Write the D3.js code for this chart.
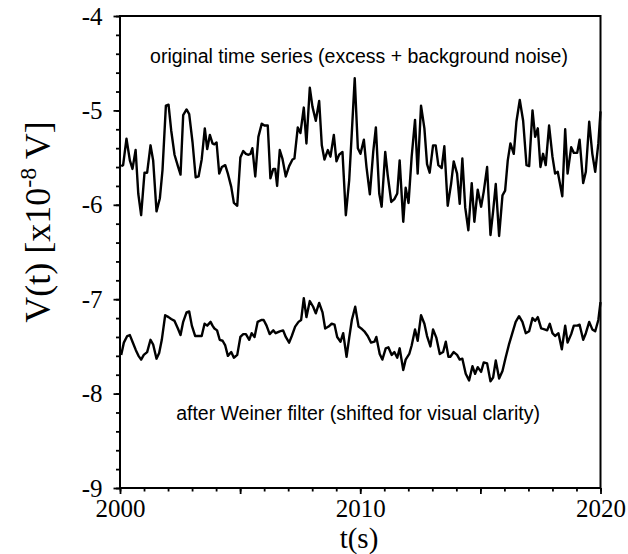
<!DOCTYPE html>
<html><head><meta charset="utf-8">
<script src="https://cdn.jsdelivr.net/npm/d3@7"></script>
<style>html,body{margin:0;padding:0;background:#fff}</style>
</head><body>
<svg id="chart" width="628" height="554"></svg>
<script>
// ---- data ----
const origYears = [2000.05,2000.13,2000.27,2000.41,2000.52,2000.65,2000.76,2000.88,2001.02,2001.13,2001.27,2001.38,2001.52,2001.66,2001.77,2001.91,2002.02,2002.13,2002.27,2002.41,2002.52,2002.63,2002.77,2002.88,2003.02,2003.15,2003.27,2003.40,2003.53,2003.63,2003.74,2003.85,2003.93,2004.02,2004.13,2004.24,2004.38,2004.49,2004.63,2004.74,2004.88,2005.01,2005.13,2005.24,2005.35,2005.43,2005.51,2005.63,2005.76,2005.90,2006.01,2006.15,2006.26,2006.38,2006.46,2006.54,
2006.65,2006.76,2006.90,2007.04,2007.18,2007.26,2007.40,2007.51,2007.65,2007.76,2007.90,2008.01,2008.15,2008.29,2008.40,2008.51,2008.65,2008.76,2008.90,2009.01,2009.12,2009.26,2009.40,2009.54,2009.65,2009.77,2009.90,2010.01,2010.15,2010.26,2010.40,2010.54,2010.65,2010.79,2010.89,2011.04,2011.14,2011.29,2011.42,2011.54,2011.64,2011.79,2011.89,2012.01,2012.14,2012.28,2012.39,2012.53,2012.67,2012.78,2012.89,2013.03,2013.14,2013.25,2013.39,2013.50,2013.64,
2013.78,2013.89,2014.03,2014.14,2014.25,2014.37,2014.50,2014.64,2014.75,2014.89,2015.03,2015.14,2015.28,2015.42,2015.53,2015.64,2015.78,2015.92,2016.03,2016.14,2016.25,2016.39,2016.50,2016.64,2016.78,2016.92,2017.03,2017.17,2017.28,2017.39,2017.50,2017.61,2017.72,2017.86,2018.00,2018.11,2018.22,2018.41,2018.53,2018.63,2018.78,2018.89,2019.03,2019.13,2019.28,2019.39,2019.53,2019.66,2019.78,2019.91,2020.00];
const origValues = [-5.59,-5.58,-5.30,-5.53,-5.62,-5.42,-5.88,-6.11,-5.66,-5.66,-5.37,-5.53,-6.07,-5.93,-5.63,-4.95,-4.94,-5.21,-5.47,-5.59,-5.68,-5.05,-4.99,-5.04,-5.34,-5.71,-5.70,-5.52,-5.19,-5.41,-5.26,-5.35,-5.36,-5.34,-5.67,-5.60,-5.58,-5.67,-5.81,-5.98,-6.01,-5.50,-5.43,-5.46,-5.47,-5.46,-5.40,-5.70,-5.28,-5.14,-5.16,-5.16,-5.72,-5.62,-5.62,-5.80,
-5.42,-5.51,-5.70,-5.59,-5.52,-5.51,-5.18,-5.24,-4.97,-5.35,-4.76,-4.96,-5.11,-4.90,-5.37,-5.52,-5.42,-5.49,-5.26,-5.54,-5.47,-5.44,-6.11,-5.74,-5.23,-4.66,-5.40,-5.46,-5.31,-5.60,-5.89,-5.44,-5.18,-5.88,-6.02,-5.44,-5.68,-5.97,-5.94,-5.88,-5.53,-6.18,-5.82,-5.98,-5.49,-5.10,-5.67,-4.95,-5.19,-5.57,-5.66,-5.37,-5.37,-5.58,-5.61,-5.38,-6.01,
-5.78,-5.54,-5.67,-5.99,-5.51,-6.03,-6.27,-5.77,-6.18,-5.84,-6.02,-5.86,-5.60,-6.32,-6.07,-5.78,-6.33,-5.90,-5.85,-5.53,-5.35,-5.46,-5.12,-4.89,-5.11,-5.58,-5.59,-5.00,-5.28,-5.19,-5.60,-5.46,-5.58,-5.16,-5.49,-5.67,-5.65,-5.91,-5.20,-5.67,-5.39,-5.45,-5.45,-5.31,-5.77,-5.65,-5.12,-5.46,-5.65,-5.35,-5.01];

const filtYears = [2000.05,2000.16,2000.30,2000.41,2000.52,2000.66,2000.77,2000.88,2000.99,2001.13,2001.27,2001.38,2001.52,2001.63,2001.74,2001.88,2002.02,2002.13,2002.27,2002.41,2002.52,2002.63,2002.77,2002.88,2002.99,2003.13,2003.27,2003.40,2003.52,2003.63,2003.77,2003.85,2003.93,2004.04,2004.15,2004.27,2004.38,2004.49,2004.63,2004.74,2004.88,2005.01,2005.13,2005.24,2005.38,2005.48,2005.60,2005.73,2005.88,2005.98,2006.10,2006.23,2006.38,2006.48,
2006.65,2006.79,2006.90,2007.04,2007.15,2007.29,2007.43,2007.54,2007.65,2007.76,2007.90,2008.04,2008.15,2008.29,2008.43,2008.54,2008.68,2008.81,2008.93,2009.04,2009.18,2009.29,2009.43,2009.54,2009.65,2009.79,2009.93,2010.04,2010.17,2010.31,2010.45,2010.59,2010.67,2010.81,2010.92,2011.06,2011.17,2011.31,2011.42,2011.54,2011.64,2011.79,2011.89,2012.04,2012.14,2012.28,2012.39,2012.53,2012.67,2012.78,2012.92,2013.03,2013.17,2013.31,2013.45,2013.56,2013.67,
2013.75,2013.89,2014.03,2014.14,2014.25,2014.39,2014.53,2014.67,2014.78,2014.89,2015.03,2015.14,2015.28,2015.42,2015.53,2015.64,2015.78,2015.92,2016.05,2016.20,2016.33,2016.47,2016.61,2016.75,2016.89,2017.03,2017.17,2017.28,2017.39,2017.53,2017.67,2017.78,2017.89,2018.00,2018.11,2018.25,2018.39,2018.53,2018.63,2018.78,2018.89,2019.03,2019.13,2019.28,2019.39,2019.53,2019.66,2019.78,2019.91,2020.00];
const filtValues = [-7.59,-7.46,-7.39,-7.38,-7.45,-7.54,-7.60,-7.64,-7.59,-7.56,-7.43,-7.48,-7.63,-7.57,-7.43,-7.17,-7.19,-7.21,-7.23,-7.31,-7.38,-7.24,-7.14,-7.13,-7.28,-7.39,-7.39,-7.39,-7.26,-7.28,-7.24,-7.28,-7.31,-7.33,-7.43,-7.44,-7.49,-7.60,-7.56,-7.62,-7.59,-7.40,-7.37,-7.37,-7.43,-7.36,-7.40,-7.24,-7.22,-7.22,-7.28,-7.37,-7.33,-7.36,
-7.34,-7.33,-7.40,-7.46,-7.39,-7.29,-7.24,-7.22,-6.99,-7.19,-7.02,-7.08,-7.15,-7.04,-7.14,-7.31,-7.29,-7.26,-7.27,-7.40,-7.45,-7.36,-7.61,-7.41,-7.22,-7.08,-7.29,-7.31,-7.34,-7.39,-7.46,-7.45,-7.40,-7.58,-7.64,-7.52,-7.51,-7.59,-7.56,-7.62,-7.52,-7.75,-7.64,-7.58,-7.49,-7.32,-7.44,-7.17,-7.26,-7.39,-7.50,-7.32,-7.41,-7.58,-7.56,-7.45,-7.61,
-7.61,-7.56,-7.59,-7.64,-7.63,-7.79,-7.86,-7.71,-7.79,-7.72,-7.77,-7.67,-7.68,-7.87,-7.83,-7.65,-7.84,-7.76,-7.62,-7.47,-7.36,-7.24,-7.18,-7.24,-7.36,-7.34,-7.20,-7.23,-7.19,-7.31,-7.32,-7.33,-7.26,-7.36,-7.39,-7.36,-7.53,-7.28,-7.46,-7.37,-7.28,-7.28,-7.27,-7.43,-7.36,-7.24,-7.32,-7.34,-7.22,-7.03];

const xMajorTicks = [2000, 2005, 2010, 2015, 2020];
const xTickLabels = ["2000", "", "2010", "", "2020"];
const yMajorTicks = [-4, -5, -6, -7, -8, -9];
const yTickLabels = ["-4", "-5", "-6", "-7", "-8", "-9"];
const annotations = ["original time series (excess + background noise)",
                     "after Weiner filter (shifted for visual clarity)"];

// ---- layout ----
const L = 120, R = 600.5, T = 16, B = 488;
const svg = d3.select("#chart");
const x = d3.scaleLinear().domain([2000, 2020]).range([L, R]);
const y = d3.scaleLinear().domain([-9, -4]).range([B, T]);
const serif = "'Liberation Serif','Times New Roman',serif";
const sans = "'Liberation Sans',Arial,Helvetica,sans-serif";

// minor ticks
const gxm = svg.append("g").attr("transform", `translate(0,${B})`)
  .call(d3.axisBottom(x).ticks(20).tickSize(3.5).tickFormat(""));
const gym = svg.append("g").attr("transform", `translate(${L},0)`)
  .call(d3.axisLeft(y).ticks(25).tickSize(4).tickFormat(""));
// major ticks
const gx = svg.append("g").attr("transform", `translate(0,${B})`)
  .call(d3.axisBottom(x).tickValues(xMajorTicks).tickSize(6)
    .tickFormat((d, i) => xTickLabels[i]).tickPadding(5.25));
const gy = svg.append("g").attr("transform", `translate(${L},0)`)
  .call(d3.axisLeft(y).tickValues(yMajorTicks).tickSize(6.5)
    .tickFormat((d, i) => yTickLabels[i]).tickPadding(11));
[gxm, gym, gx, gy].forEach(g => {
  g.select(".domain").remove();
  g.selectAll(".tick line").attr("stroke", "#000").attr("stroke-width", 1.8);
});
gx.selectAll(".tick text").attr("font-family", serif).attr("font-size", 25).attr("fill", "#000");
gy.selectAll(".tick text").attr("font-family", serif).attr("font-size", 25).attr("fill", "#000");

// frame
svg.append("rect").attr("x", L).attr("y", T).attr("width", R - L).attr("height", B - T)
  .attr("fill", "none").attr("stroke", "#000").attr("stroke-width", 2);

// lines
const line = d3.line().x(d => x(d[0])).y(d => y(d[1]));
const orig = origYears.map((t, i) => [t, origValues[i]]);
const filt = filtYears.map((t, i) => [t, filtValues[i]]);
[orig, filt].forEach(s => {
  svg.append("path").datum(s).attr("d", line).attr("fill", "none")
    .attr("stroke", "#000").attr("stroke-width", 2.4).attr("stroke-linejoin", "round");
});

// annotations
svg.append("text").attr("x", 359).attr("y", 63).attr("text-anchor", "middle")
  .attr("font-family", sans).attr("font-size", 19.5).text(annotations[0]);
svg.append("text").attr("x", 358).attr("y", 420).attr("text-anchor", "middle")
  .attr("font-family", sans).attr("font-size", 19.5).text(annotations[1]);

// axis titles
svg.append("text").attr("x", 359).attr("y", 547.5).attr("text-anchor", "middle")
  .attr("font-family", serif).attr("font-size", 29).text("t(s)");
const yt = svg.append("text").attr("transform", "translate(50,222) rotate(-90)")
  .attr("text-anchor", "middle").attr("font-family", serif).attr("font-size", 36);
yt.append("tspan").text("V(t) [x10");
yt.append("tspan").attr("font-size", 24).attr("dy", -14).text("-8");
yt.append("tspan").attr("dy", 14).text(" V]");
</script>
</body></html>
